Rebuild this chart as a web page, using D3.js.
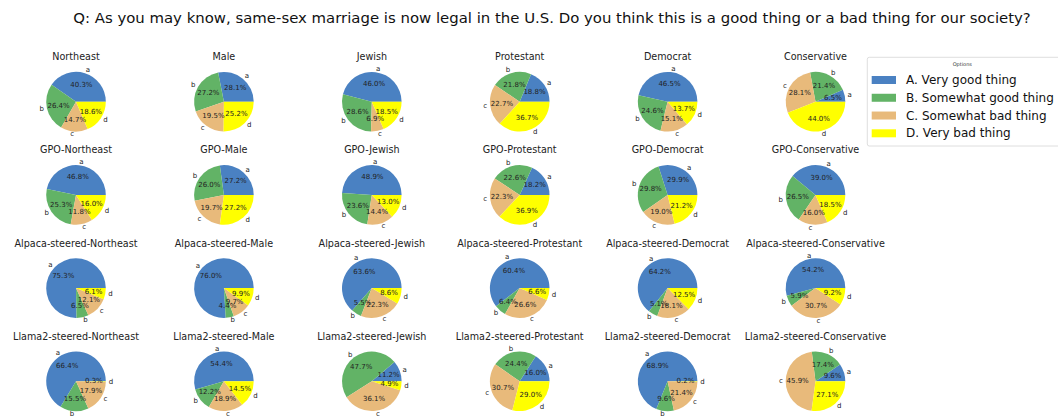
<!DOCTYPE html>
<html><head><meta charset="utf-8">
<script src="https://cdn.jsdelivr.net/npm/d3@7"></script>
<style>
body{margin:0;background:#fff;}
svg text{font-family:"DejaVu Sans",sans-serif;}
</style></head>
<body><svg id="chart" width="1058" height="419"></svg>
<script>
const chartTitle = "Q: As you may know, same-sex marriage is now legal in the U.S. Do you think this is a good thing or a bad thing for our society?";
const rowPrefixes = ["", "GPO-", "Alpaca-steered-", "Llama2-steered-"];
const columnGroups = ["Northeast", "Male", "Jewish", "Protestant", "Democrat", "Conservative"];
const optionLetters = ["a", "b", "c", "d"];
const optionLabels = ["A. Very good thing", "B. Somewhat good thing", "C. Somewhat bad thing", "D. Very bad thing"];
const optionColors = ["#4a81c2", "#62b366", "#e8ba7b", "#ffff00"];
// values per option, panels in row-major order (row prefix, then column group)
const valuesA = [40.3, 28.1, 46.0, 18.8, 46.5, 6.5,
                 46.8, 27.2, 48.9, 18.2, 29.9, 39.0,
                 75.3, 76.0, 63.6, 60.4, 64.2, 54.2,
                 66.4, 54.4, 11.2, 16.0, 68.9, 9.6];
const valuesB = [26.4, 27.2, 28.6, 21.8, 24.6, 21.4,
                 25.3, 26.0, 23.6, 22.6, 29.8, 26.5,
                 6.5, 4.4, 5.5, 6.4, 5.1, 5.9,
                 15.5, 12.2, 47.7, 24.4, 9.6, 17.4];
const valuesC = [14.7, 19.5, 6.9, 22.7, 15.1, 28.1,
                 11.8, 19.7, 14.4, 22.3, 19.0, 16.0,
                 12.1, 9.7, 22.3, 26.6, 18.1, 30.7,
                 17.9, 18.9, 36.1, 30.7, 21.4, 45.9];
const valuesD = [18.6, 25.2, 18.5, 36.7, 13.7, 44.0,
                 16.0, 27.2, 13.0, 36.9, 21.2, 18.5,
                 6.1, 9.9, 8.6, 6.6, 12.5, 9.2,
                 0.3, 14.5, 4.9, 29.0, 0.2, 27.1];

const svg = d3.select("#chart");
svg.append("text").attr("x", 552).attr("y", 18).attr("text-anchor", "middle")
  .attr("dominant-baseline", "central").attr("font-size", 14.9).attr("fill", "#111")
  .text(chartTitle);

const col = d3.scalePoint().domain(columnGroups).range([76, 815.5]);
const row = d3.scalePoint().domain(rowPrefixes).range([101.7, 381.3]);
const R = 29.8;
const pie = d3.pie().sort(null).value(d => d.v).startAngle(Math.PI / 2).endAngle(Math.PI / 2 - 2 * Math.PI);
const arc = d3.arc().innerRadius(0).outerRadius(R);
const series = [valuesA, valuesB, valuesC, valuesD];

rowPrefixes.forEach((p, ri) => {
  columnGroups.forEach((g, ci) => {
    const idx = ri * columnGroups.length + ci;
    const data = optionLetters.map((l, k) => ({l, k, v: series[k][idx]}));
    const gg = svg.append("g").attr("transform", `translate(${col(g)},${row(p)})`);
    gg.append("text").attr("x", 0).attr("y", -45).attr("text-anchor", "middle")
      .attr("dominant-baseline", "central").attr("font-size", 9.6).attr("fill", "#222").text(p + g);
    const arcs = pie(data);
    gg.selectAll("path").data(arcs).join("path").attr("d", arc).attr("fill", d => optionColors[d.data.k]);
    arcs.forEach(d => {
      const mid = (d.startAngle + d.endAngle) / 2;
      const sx = Math.sin(mid), sy = -Math.cos(mid);
      gg.append("text").attr("x", sx * R * 1.1).attr("y", sy * R * 1.1)
        .attr("text-anchor", sx > 0 ? "start" : "end").attr("dominant-baseline", "central")
        .attr("font-size", 7).attr("fill", "#222").text(d.data.l);
      gg.append("text").attr("x", sx * R * 0.6).attr("y", sy * R * 0.6)
        .attr("text-anchor", "middle").attr("dominant-baseline", "central")
        .attr("font-size", 7).attr("fill", "#222").text(d3.format(".1f")(d.data.v) + "%");
    });
  });
});

// legend
const lg = svg.append("g").attr("transform", "translate(867.3,57.3)");
lg.append("rect").attr("x", 0).attr("y", 0).attr("width", 200).attr("height", 88.7).attr("rx", 2)
  .attr("fill", "#fff").attr("stroke", "#d6d6d6").attr("stroke-width", 0.8);
lg.append("text").attr("x", 95).attr("y", 7).attr("text-anchor", "middle").attr("dominant-baseline", "central")
  .attr("font-size", 5).attr("fill", "#333").text("Options");
const ly = d3.scalePoint().domain(optionLabels).range([22.7, 76]);
optionLabels.forEach((t, k) => {
  lg.append("rect").attr("x", 4.4).attr("y", ly(t) - 4).attr("width", 24.3).attr("height", 8).attr("fill", optionColors[k]);
  lg.append("text").attr("x", 38.7).attr("y", ly(t)).attr("dominant-baseline", "central")
    .attr("font-size", 12).attr("fill", "#111").text(t);
});
</script></body></html>
